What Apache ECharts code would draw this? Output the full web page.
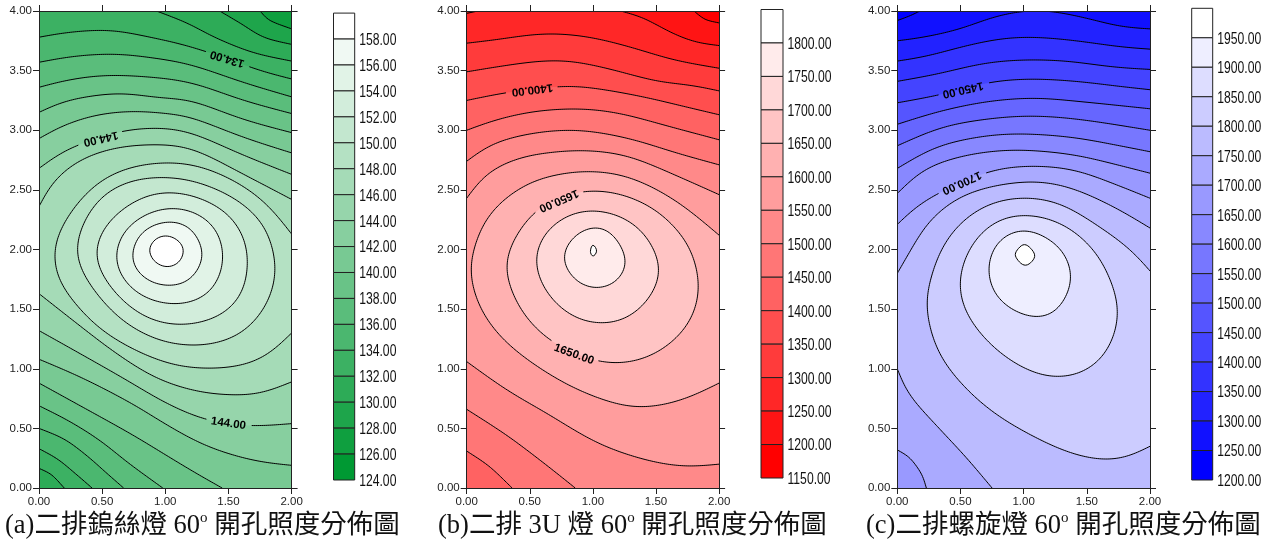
<!DOCTYPE html>
<html><head><meta charset="utf-8">
<style>html,body{margin:0;padding:0;background:#fff}#c{width:1271px;height:541px}</style>
<script src="https://cdn.jsdelivr.net/npm/echarts@6/dist/echarts.min.js"></script>
</head><body><div id="c"></div>
<script>
// ---------- data: contour lines, in axis units [x, y] ----------
// A level is a list of pieces walked round its high side; a one-point piece is a plot corner.
const levelsA = [128,130,132,134,136,138,140,142,144,146,148,150,152,154,156,158];
const contoursA = [
 [[[1.75,4],[1.83,3.92],[2,3.85]],[[2,0]],[[0,0]],[[0,4]]],
 [[[1.43,4],[1.59,3.90],[1.78,3.78],[2,3.72]],[[2,0]],[[0,0]],[[0,4]]],
 [[[.93,4],[1.17,3.90],[1.41,3.77],[1.70,3.65],[2,3.58]],[[2,0]],[[.2,0],[.10,.11],[0,.165]],[[0,4]]],
 [[[0,3.78],[.22,3.82],[.56,3.84],[.88,3.78],[1.17,3.71],[1.49,3.60],[1.75,3.50],[2,3.43]],[[2,0]],[[.42,0],[.30,.11],[.15,.24],[0,.33]]],
 [[[0,3.57],[.27,3.62],[.59,3.64],[.88,3.61],[1.20,3.55],[1.62,3.40],[2,3.28]],[[2,0]],[[.67,0],[.53,.13],[.38,.27],[.2,.41],[0,.50]]],
 [[[0,3.36],[.22,3.42],[.51,3.46],[.83,3.45],[1.20,3.40],[1.62,3.25],[2,3.14]],[[2,0]],[[.98,0],[.72,.20],[.48,.40],[.24,.56],[0,.69]]],
 [[[0,3.15],[.19,3.24],[.43,3.29],[.67,3.31],[.96,3.27],[1.20,3.25],[1.62,3.09],[2,2.98]],[[2,0]],[[1.45,0],[1.25,.12],[1.03,.26],[.75,.44],[.48,.60],[.24,.74],[0,.88]]],
 [[[0,2.93],[.19,3.04],[.46,3.13],[.75,3.16],[1.01,3.14],[1.20,3.11],[1.62,2.94],[2,2.81]],[[2,.19],[1.70,.23],[1.33,.35],[1.01,.53],[.75,.70],[.35,.92],[0,1.08]]],
 [[[0,2.68],[.17,2.81],[.34,2.89],[.64,2.99],[.93,3.02],[1.20,2.98],[1.62,2.79],[2,2.63]],[[2,.54],[1.67,.52],[1.33,.57],[1.01,.71],[.67,.92],[.32,1.13],[0,1.32]]],
 [[[0,2.36],[.11,2.57],[.32,2.75],[.59,2.85],[.88,2.88],[1.20,2.85],[1.62,2.63],[2,2.42]],[[2,.89],[1.75,.79],[1.51,.78],[1.25,.81],[.93,.92],[.61,1.13],[.30,1.38],[0,1.63]]],
 [[[2,1.30],[1.80,1.10],[1.59,1.02],[1.33,1.00],[1.06,1.03],[.75,1.16],[.46,1.35],[.22,1.63],[.13,1.79],[.11,2.0],[.15,2.14],[.30,2.39],[.51,2.60],[.75,2.70],[.96,2.73],[1.20,2.72],[1.49,2.61],[1.78,2.41],[2,2.13]]],
 [[[.29,1.93],[.32,2.16],[.48,2.44],[.72,2.58],[.98,2.61],[1.22,2.58],[1.54,2.44],[1.78,2.22],[1.87,1.94],[1.88,1.77],[1.80,1.52],[1.62,1.30],[1.41,1.21],[1.21,1.19],[.96,1.23],[.67,1.39],[.43,1.66]]],
 [[[.44,1.91],[.48,2.14],[.64,2.33],[.85,2.46],[1.04,2.49],[1.27,2.44],[1.51,2.30],[1.64,2.08],[1.66,1.91],[1.62,1.63],[1.46,1.45],[1.27,1.38],[1.09,1.36],[.85,1.42],[.61,1.62]]],
 [[[.59,1.91],[.65,2.14],[.80,2.28],[1.01,2.36],[1.22,2.33],[1.41,2.19],[1.47,1.97],[1.47,1.88],[1.39,1.66],[1.25,1.56],[1.06,1.53],[.85,1.58],[.69,1.70]]],
 [[[.73,1.91],[.80,2.14],[1.01,2.24],[1.20,2.19],[1.30,2.0],[1.30,1.91],[1.20,1.74],[1.04,1.69],[.85,1.74]]],
 [[[.87,2.0],[.92,2.09],[1.01,2.12],[1.10,2.08],[1.15,2.0],[1.11,1.89],[1.01,1.85],[.91,1.90]]]
];
const labelsA = [[1.49,3.60,134,197],[.49,2.93,144,167],[1.50,.54,144,8]];
const legendTicksA = [158,156,154,152,150,148,146,144,142,140,138,136,134,132,130,128,126,124];

const levelsB = [1200,1250,1300,1350,1400,1450,1500,1550,1600,1650,1700,1750,1800];
const contoursB = [
 [[[1.80,4],[1.89,3.93],[2,3.90]],[[2,0]],[[0,0]],[[0,4]]],
 [[[0,3.98],[.09,4]],[[1.22,4],[1.40,3.94],[1.64,3.81],[1.82,3.74],[2,3.71]],[[2,0]],[[0,0]]],
 [[[0,3.73],[.24,3.76],[.50,3.80],[.71,3.81],[.98,3.78],[1.29,3.70],[1.64,3.59],[2,3.52]],[[2,0]],[[0,0]]],
 [[[0,3.49],[.29,3.54],[.58,3.58],[.82,3.58],[1.11,3.52],[1.51,3.41],[1.77,3.38],[2,3.33]],[[2,0]],[[0,0]]],
 [[[0,3.25],[.34,3.32],[.77,3.37],[1.03,3.35],[1.40,3.28],[1.72,3.20],[2,3.13]],[[2,0]],[[0,0]]],
 [[[0,3.0],[.24,3.09],[.55,3.16],[.90,3.18],[1.22,3.14],[1.61,3.03],[2,2.92]],[[2,0]],[[.36,0],[.18,.18],[0,.31]]],
 [[[0,2.74],[.21,2.89],[.55,2.98],[.90,3.0],[1.29,2.93],[1.66,2.81],[2,2.71]],[[2,0]],[[.86,0],[.61,.21],[.32,.44],[0,.66]]],
 [[[0,2.43],[.16,2.64],[.42,2.77],[.71,2.82],[.98,2.83],[1.29,2.78],[1.66,2.62],[2,2.46]],[[2,.20],[1.72,.18],[1.40,.24],[1.03,.38],[.63,.63],[.32,.82],[0,1.06]]],
 [[[2,.88],[1.72,.74],[1.40,.67],[1.16,.71],[.77,.88],[.34,1.19],[.11,1.49],[.02,1.80],[.03,1.92],[.16,2.28],[.45,2.54],[.71,2.63],[.98,2.66],[1.29,2.61],[1.66,2.41],[2,2.12]]],
 [[[.30,1.91],[.40,2.14],[.55,2.34],[.73,2.44],[.95,2.50],[1.22,2.47],[1.51,2.33],[1.74,2.08],[1.81,1.91],[1.85,1.66],[1.77,1.38],[1.56,1.16],[1.35,1.06],[1.19,1.04],[1.02,1.06],[.69,1.21],[.45,1.45],[.32,1.74]]],
 [[[.53,1.91],[.61,2.14],[.77,2.28],[.95,2.34],[1.19,2.30],[1.40,2.16],[1.53,1.91],[1.55,1.80],[1.45,1.58],[1.27,1.41],[1.08,1.37],[.85,1.42],[.63,1.63]]],
 [[[.76,1.91],[.82,2.08],[.98,2.19],[1.14,2.15],[1.27,1.91],[1.19,1.73],[1.03,1.67],[.87,1.73]]],
 [[[.98,1.98],[.99,2.03],[1.0,2.04],[1.02,2.02],[1.03,1.98],[1.0,1.94]]]
];
const labelsB = [[.52,3.34,1400,173],[.73,2.41,1650,157],[.85,1.12,1650,20]];
const legendTicksB = [1800,1750,1700,1650,1600,1550,1500,1450,1400,1350,1300,1250,1200,1150];

const levelsC = [1250,1300,1350,1400,1450,1500,1550,1600,1650,1700,1750,1800,1850,1900,1950];
const contoursC = [
 [[[0,3.92],[.10,3.96],[.18,4]],[[2,4]],[[2,0]],[[0,0]]],
 [[[0,3.75],[.21,3.78],[.50,3.85],[.76,3.95],[1.0,4.0],[1.21,4.0],[1.50,3.94],[1.76,3.87],[2,3.85]],[[2,0]],[[0,0]]],
 [[[0,3.58],[.23,3.62],[.55,3.71],[.84,3.77],[1.10,3.78],[1.42,3.75],[1.76,3.70],[2,3.68]],[[2,0]],[[0,0]]],
 [[[0,3.41],[.31,3.47],[.68,3.56],[1.0,3.59],[1.34,3.58],[1.71,3.53],[2,3.51]],[[2,0]],[[0,0]]],
 [[[0,3.23],[.35,3.30],[.72,3.40],[1.05,3.43],[1.42,3.41],[1.74,3.37],[2,3.34]],[[2,0]],[[0,0]]],
 [[[0,3.05],[.34,3.16],[.71,3.24],[1.08,3.27],[1.45,3.24],[2,3.18]],[[2,0]],[[0,0]]],
 [[[0,2.87],[.34,3.02],[.68,3.09],[1.05,3.12],[1.45,3.09],[2,3.0]],[[2,0]],[[0,0]]],
 [[[0,2.68],[.31,2.86],[.68,2.95],[1.0,2.97],[1.39,2.94],[1.71,2.88],[2,2.82]],[[2,0]],[[0,0]]],
 [[[0,2.47],[.21,2.67],[.50,2.78],[.81,2.83],[1.08,2.83],[1.42,2.79],[1.74,2.71],[2,2.64]],[[2,0]],[[0,0]]],
 [[[0,2.21],[.15,2.36],[.34,2.48],[.71,2.65],[1.02,2.70],[1.39,2.67],[1.74,2.54],[2,2.43]],[[2,0]],[[.23,0],[.19,.12],[.10,.25],[0,.32]]],
 [[[0,1.80],[.11,2.0],[.26,2.25],[.55,2.47],[1.0,2.57],[1.34,2.53],[1.71,2.36],[2,2.18]],[[2,0]],[[.75,0],[.55,.25],[.34,.49],[.15,.71],[.06,.85],[0,1.0]]],
 [[[2,.35],[1.82,.25],[1.63,.23],[1.37,.29],[1.08,.43],[.76,.63],[.50,.88],[.31,1.16],[.22,1.55],[.26,1.74],[.34,2.0],[.50,2.23],[.73,2.39],[1.0,2.44],[1.29,2.39],[1.60,2.19],[1.85,2.0],[2,1.82]]],
 [[[.56,2.0],[.48,1.69],[.57,1.41],[.81,1.13],[1.08,.96],[1.26,.92],[1.47,.96],[1.66,1.13],[1.76,1.47],[1.68,1.77],[1.56,2.0],[1.31,2.22],[1.0,2.30],[.75,2.23]]],
 [[[.75,2.0],[.71,1.83],[.76,1.63],[.89,1.50],[1.09,1.42],[1.26,1.47],[1.39,1.75],[1.31,2.0],[1.17,2.11],[1.01,2.18],[.84,2.12]]],
 [[[.93,1.95],[1.01,1.86],[1.09,1.93],[1.08,1.98],[1.01,2.05],[.96,2.01]]]
];
const labelsC = [[.52,3.34,1450,167],[.51,2.56,1700,156]];
const legendTicksC = [1950,1900,1850,1800,1750,1700,1650,1600,1550,1500,1450,1400,1350,1300,1250,1200];

const titlesText = ['(a)二排鎢絲燈 60{s|o} 開孔照度分佈圖','(b)二排 3U 燈 60{s|o} 開孔照度分佈圖','(c)二排螺旋燈 60{s|o} 開孔照度分佈圖'];

// ---------- layout ----------
const panels = [
 {lv:levelsA,ct:contoursA,lb:labelsA,tk:legendTicksA,low:[0,153,51],  plot:[39,252.6],  leg:[333.5,21.2,13.1,480], tx:5},
 {lv:levelsB,ct:contoursB,lb:labelsB,tk:legendTicksB,low:[255,0,0],   plot:[466.7,252.4],leg:[761,22,9.5,478],     tx:438},
 {lv:levelsC,ct:contoursC,lb:labelsC,tk:legendTicksC,low:[0,0,255],   plot:[897.3,252.7],leg:[1191.7,21,8.3,480],  tx:866}
];
const PLOT_TOP=11, PLOT_H=477, AXC='#222';
const TICK = {fontFamily:'"Liberation Sans",Arial,sans-serif',fontSize:11.5,color:'#222'};

function bandColor(p,value){
  const ticks=p.tk, min=ticks[ticks.length-1], step=ticks[0]-ticks[1];
  const t=(value-min)/step/(ticks.length-1);
  const c=p.low.map(v=>Math.round(255*t+v*(1-t)));
  return 'rgb('+c.join(',')+')';
}
// rendering helpers only: round a read polyline so hand-read jitter does not show
function spline(pts,closed){
  if(pts.length<3) return pts;
  const n=pts.length,out=[];
  const at=i=>closed?pts[(i+n)%n]:pts[Math.max(0,Math.min(n-1,i))];
  const last=closed?n:n-1;
  for(let i=0;i<last;i++){
    const p0=at(i-1),p1=at(i),p2=at(i+1),p3=at(i+2);
    for(let k=0;k<10;k++){
      const t=k/10,t2=t*t,t3=t2*t;
      out.push([0,1].map(d=>0.5*(2*p1[d]+(p2[d]-p0[d])*t+(2*p0[d]-5*p1[d]+4*p2[d]-p3[d])*t2+(3*p1[d]-p0[d]-3*p2[d]+p3[d])*t3)));
    }
  }
  if(!closed) out.push(pts[n-1]);
  return out;
}
function resample(line,step,closed){
  const pts=closed?line.concat([line[0]]):line, out=[pts[0]];
  let need=step;
  for(let i=1;i<pts.length;i++){
    let a=pts[i-1];const b=pts[i];
    let d=Math.hypot(b[0]-a[0],b[1]-a[1]);
    while(d>=need&&d>0){
      const t=need/d,q=[a[0]+(b[0]-a[0])*t,a[1]+(b[1]-a[1])*t];
      out.push(q);a=q;d=Math.hypot(b[0]-a[0],b[1]-a[1]);need=step;
    }
    need-=d;
  }
  if(!closed) out.push(pts[pts.length-1]);
  return out;
}
function smoothLine(px,closed){
  if(px.length<3) return px;
  const STEP=2, dense=resample(spline(px,closed),STEP,closed), n=dense.length;
  if(n<8) return dense;
  const sigma=Math.min(17,n*STEP/20), rad=Math.ceil(3*sigma/STEP), w=[];
  let sum=0;
  for(let k=-rad;k<=rad;k++){const g=Math.exp(-(k*STEP)*(k*STEP)/(2*sigma*sigma));w.push(g);sum+=g;}
  const sample=i=>{
    if(closed) return dense[((i%n)+n)%n];
    if(i<0){const q=dense[Math.min(n-1,-i)];return [2*dense[0][0]-q[0],2*dense[0][1]-q[1]];}
    if(i>=n){const q=dense[Math.max(0,2*(n-1)-i)];return [2*dense[n-1][0]-q[0],2*dense[n-1][1]-q[1]];}
    return dense[i];
  };
  return dense.map((_,i)=>{
    let x=0,y=0;
    for(let k=-rad;k<=rad;k++){const q=sample(i+k),g=w[k+rad];x+=q[0]*g;y+=q[1]*g;}
    return [x/sum,y/sum];
  });
}
const onEdge=q=>q[0]<=0||q[0]>=2||q[1]<=0||q[1]>=4;

function contourSeries(p,gi){
  const baseCorners=[[[0,0]],[[2,0]],[[2,4]],[[0,4]]];
  const ticks=p.tk, step=ticks[0]-ticks[1];
  const rows=[{v:p.lv[0]-step,segs:baseCorners}].concat(p.lv.map((v,i)=>({v,segs:p.ct[i]})));
  return {
    type:'custom',coordinateSystem:'cartesian2d',xAxisIndex:gi*2,yAxisIndex:gi*2,clip:true,z:2,silent:true,
    data:rows.map((r,i)=>[i,r.v]),
    renderItem(params,api){
      const r=rows[api.value(0)],children=[],poly=[],strokes=[];
      const gaps=p.lb.filter(l=>l[2]===r.v).map(l=>({c:api.coord([l[0],l[1]]),r:String(l[2]).length>=4?25:22}));
      r.segs.forEach(seg=>{
        const closed=r.segs.length===1&&!onEdge(seg[0])&&!onEdge(seg[seg.length-1]);
        const px=seg.map(q=>api.coord(q));
        const sm=seg.length>1?smoothLine(px,closed):px;
        poly.push(...sm);
        if(seg.length>1){
          const line=closed?sm.concat([sm[0]]):sm;
          let run=[];
          const flush=()=>{ if(run.length>1) strokes.push(run); run=[]; };
          line.forEach(q=>{
            const hit=gaps.some(g=>Math.hypot(q[0]-g.c[0],q[1]-g.c[1])<g.r);
            if(hit) flush(); else run.push(q);
          });
          flush();
        }
      });
      children.push({type:'polygon',shape:{points:poly},style:{fill:bandColor(p,r.v),stroke:null}});
      strokes.forEach(run=>children.push({type:'polyline',shape:{points:run},style:{fill:null,stroke:'#000',lineWidth:1}}));
      return {type:'group',children};
    }
  };
}
function labelSeries(p,gi){
  return {
    type:'custom',coordinateSystem:'cartesian2d',xAxisIndex:gi*2,yAxisIndex:gi*2,clip:false,z:4,silent:true,
    data:p.lb.map(l=>[l[0],l[1],l[2],l[3]]),
    renderItem(params,api){
      const c=api.coord([api.value(0),api.value(1)]);
      return {type:'text',x:c[0],y:c[1],rotation:-api.value(3)*Math.PI/180,
        style:{text:api.value(2).toFixed(2),align:'center',verticalAlign:'middle',
          fontFamily:'"Liberation Sans",Arial,sans-serif',fontWeight:'bold',fontSize:11.5,fill:'#000'}};
    }
  };
}
function legendSeries(p,gi){
  const step=p.tk[0]-p.tk[1];
  return {
    type:'custom',coordinateSystem:'cartesian2d',xAxisIndex:gi*2+1,yAxisIndex:gi*2+1,clip:false,z:3,silent:true,
    data:p.tk.map(v=>[0,v]),
    renderItem(params,api){
      const v=api.value(1),a=api.coord([0,v+step]),b=api.coord([1,v]),isMax=v===p.tk[0];
      return {type:'group',children:[
        {type:'rect',shape:{x:a[0],y:a[1],width:b[0]-a[0],height:b[1]-a[1]},
         style:{fill:isMax?'#fff':bandColor(p,v),stroke:'#222',lineWidth:1}},
        {type:'text',x:b[0]+4.5,y:b[1]+1.5,scaleX:0.76,
         style:{text:v.toFixed(2),align:'left',verticalAlign:'middle',
           fontFamily:'"Liberation Sans",Arial,sans-serif',fontSize:16,fill:'#111'}}
      ]};
    }
  };
}

const grids=[],xAxes=[],yAxes=[],series=[],titles=[];
panels.forEach((p,i)=>{
  grids.push({left:p.plot[0],top:PLOT_TOP,width:p.plot[1],height:PLOT_H});
  grids.push({left:p.leg[0],top:p.leg[2],width:p.leg[1],height:p.leg[3]-p.leg[2]});
  const gPlot=i*2,gLeg=i*2+1;
  const line={show:true,onZero:false,lineStyle:{color:AXC,width:1}};
  const tick={show:true,length:6,inside:false,lineStyle:{color:AXC,width:1}};
  const base={min:0,z:5,splitLine:{show:false},axisLine:line,axisTick:tick};
  const fmt=v=>v.toFixed(2);
  xAxes[gPlot]={...base,type:'value',gridIndex:gPlot,max:2,interval:0.5,position:'bottom',
    axisLabel:{...TICK,margin:8,formatter:fmt,hideOverlap:false}};
  yAxes[gPlot]={...base,type:'value',gridIndex:gPlot,max:4,interval:0.5,position:'left',
    axisLabel:{...TICK,margin:7,formatter:fmt,hideOverlap:false}};
  const mn=p.tk[p.tk.length-1],mx=p.tk[0]+(p.tk[0]-p.tk[1]);
  xAxes[gLeg]={type:'value',gridIndex:gLeg,min:0,max:1,show:false};
  yAxes[gLeg]={type:'value',gridIndex:gLeg,min:mn,max:mx,show:false};
  series.push(contourSeries(p,i),labelSeries(p,i),legendSeries(p,i));
  titles.push({text:titlesText[i],left:p.tx,top:511,padding:0,
    textStyle:{fontFamily:'"Liberation Serif","Noto Sans CJK TC",serif',fontWeight:'normal',fontSize:26.5,color:'#111',
      rich:{s:{fontFamily:'"Liberation Serif",serif',fontSize:15,color:'#111',verticalAlign:'top',lineHeight:30,padding:[0,0,10,0]}}}});
});
// top and right frame axes, appended after the index-matched ones
panels.forEach((p,i)=>{
  const gPlot=i*2;
  const line={show:true,onZero:false,lineStyle:{color:AXC,width:1}};
  const tick={show:true,length:6,inside:false,lineStyle:{color:AXC,width:1}};
  xAxes.push({type:'value',gridIndex:gPlot,min:0,max:2,interval:0.5,position:'top',z:5,splitLine:{show:false},axisLine:line,axisTick:tick,axisLabel:{show:false}});
  yAxes.push({type:'value',gridIndex:gPlot,min:0,max:4,interval:0.5,position:'right',z:5,splitLine:{show:false},axisLine:line,axisTick:tick,axisLabel:{show:false}});
});
const chart=echarts.init(document.getElementById('c'),null,{renderer:'canvas',width:1271,height:541});
chart.setOption({animation:false,backgroundColor:'#fff',title:titles,grid:grids,xAxis:xAxes,yAxis:yAxes,series});
</script></body></html>
